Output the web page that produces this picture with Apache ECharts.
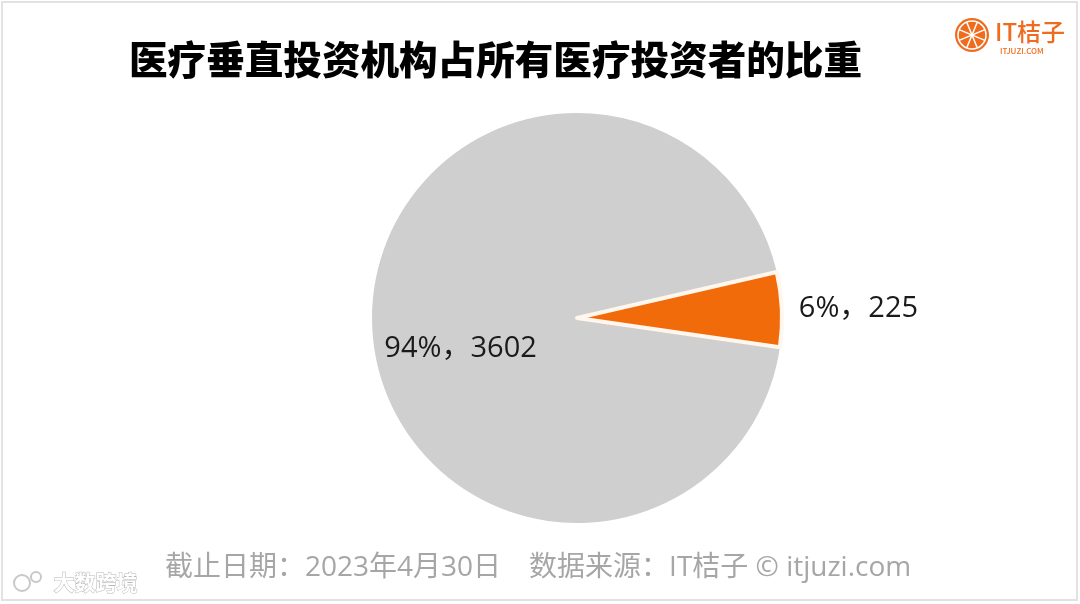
<!DOCTYPE html>
<html>
<head>
<meta charset="utf-8">
<script src="https://cdn.jsdelivr.net/npm/echarts@6/dist/echarts.min.js"></script>
<style>
html,body{margin:0;padding:0;background:#fff;}
#chart{width:1080px;height:604px;}
</style>
</head>
<body>
<div id="chart"></div>
<script>
var titleText = '医疗垂直投资机构占所有医疗投资者的比重';
var footerText = '截止日期：2023年4月30日　数据来源：IT桔子 © itjuzi.com';
var categories = ['其他医疗投资者', '医疗垂直投资机构'];
var values = [3602, 225];
var percents = ['94%', '6%'];
var colors = ['#d0cfd0', '#f26b0b'];

var chart = echarts.init(document.getElementById('chart'));
var font = '"Noto Sans CJK SC", "Noto Sans", sans-serif';
var labelFont = '"Open Sans", "Noto Sans CJK SC", sans-serif';

var data = categories.map(function (c, i) {
  var item = { name: c, value: values[i] };
  if (i === 1) {
    item.itemStyle = { color: colors[i], borderColor: '#fff7ee', borderWidth: 4 };
    item.label = { position: 'outside' };
    item.labelLine = { show: false, length: 12, length2: 0 };
  } else {
    item.itemStyle = { color: colors[i], borderWidth: 0 };
    item.label = { position: 'inside' };
  }
  return item;
});

var logoCx = 972, logoCy = 35, logoR = 17;
var logoChildren = [
  { type: 'circle', shape: { cx: logoCx, cy: logoCy, r: logoR }, style: { fill: '#ef6c1f' } },
  { type: 'circle', shape: { cx: logoCx, cy: logoCy, r: logoR - 3 }, style: { fill: 'none', stroke: '#ffffff', lineWidth: 1.5 } }
];
for (var k = 0; k < 4; k++) {
  var a = k * Math.PI / 4 + Math.PI / 8;
  logoChildren.push({
    type: 'line',
    shape: {
      x1: logoCx + Math.cos(a) * (logoR - 3), y1: logoCy + Math.sin(a) * (logoR - 3),
      x2: logoCx - Math.cos(a) * (logoR - 3), y2: logoCy - Math.sin(a) * (logoR - 3)
    },
    style: { stroke: '#ffffff', lineWidth: 1.5 }
  });
}

chart.setOption({
  backgroundColor: '#ffffff',
  animation: false,
  title: {
    text: titleText,
    left: 124,
    top: 35,
    textStyle: { fontFamily: font, fontSize: 38.6, fontWeight: 900, color: '#000000' }
  },
  graphic: [
    { type: 'rect', shape: { x: 2, y: 2, width: 1075, height: 598 }, style: { fill: 'none', stroke: '#e2e2e2', lineWidth: 2 }, z: -1 },
    { type: 'group', children: logoChildren },
    { type: 'text', left: 995, top: 20, style: { text: 'IT桔子', fill: '#ef6c1f', font: '500 24px ' + font } },
    { type: 'text', left: 1000, top: 47, style: { text: 'ITJUZI.COM', fill: '#ef6c1f', font: '500 8px ' + font } },
    { type: 'text', left: 165, top: 554, style: { text: footerText, fill: '#a6a6a6', font: '28px ' + labelFont } },
    { type: 'circle', shape: { cx: 22, cy: 583, r: 8 }, style: { fill: 'none', stroke: '#c8c8c8', lineWidth: 2 } },
    { type: 'circle', shape: { cx: 36, cy: 577, r: 5 }, style: { fill: 'none', stroke: '#c8c8c8', lineWidth: 2 } },
    { type: 'text', left: 53, top: 571, style: { text: '大数跨境', fill: '#ffffff', stroke: '#b8b8b8', lineWidth: 1, font: 'bold 21px ' + font } }
  ],
  series: [{
    type: 'pie',
    center: [577, 318],
    radius: 205,
    startAngle: -8.2,
    clockwise: true,
    silent: true,
    label: {
      show: true,
      fontFamily: labelFont,
      fontSize: 29,
      color: '#1a1a1a',
      formatter: function (p) { return percents[p.dataIndex] + '，' + p.value; }
    },
    labelLayout: function (params) {
      if (params.dataIndex === 0) {
        return { dx: -11, dy: 26 };
      }
      return {};
    },
    data: data
  }]
});
</script>
</body>
</html>
